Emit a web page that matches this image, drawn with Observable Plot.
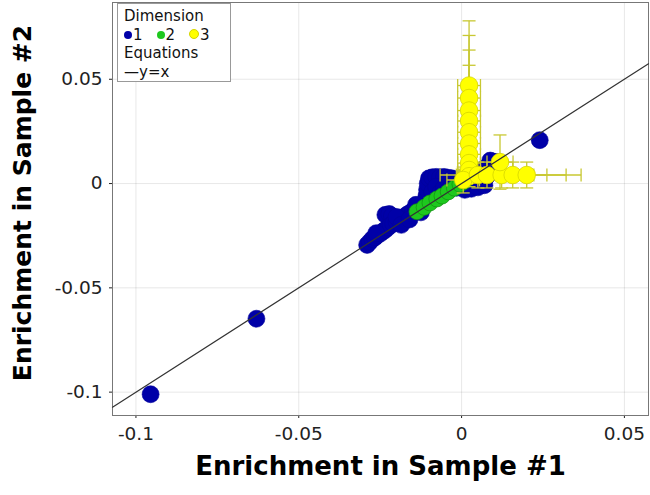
<!DOCTYPE html>
<html>
<head>
<meta charset="utf-8">
<script src="https://cdn.jsdelivr.net/npm/d3@7"></script>
<script src="https://cdn.jsdelivr.net/npm/@observablehq/plot@0.6"></script>
<style>
  html, body { margin: 0; padding: 0; background: #fff; }
  #wrap { position: relative; width: 650px; height: 495px; font-family: "DejaVu Sans", sans-serif; }
  #legend { position: absolute; left: 117px; top: 3px; width: 114px; height: 79px; border: 1px solid #999; background: #fff; font-size: 15px; color: #111; box-sizing: border-box; padding: 3px 0 0 6px; line-height: 18.5px; }
  #legend .row { white-space: nowrap; }
  #legend .sw { display: inline-block; width: 8px; height: 8px; border-radius: 50%; margin-right: 1px; vertical-align: 1px; }
  #legend .it { margin-right: 14px; }
</style>
</head>
<body>
<div id="wrap"><div id="chart"></div>
  <div id="legend">
    <div class="row">Dimension</div>
    <div class="row"><span class="it"><span class="sw" style="background:#0000a8"></span>1</span><span class="it"><span class="sw" style="background:#1ec81e"></span>2</span><span class="it"><span class="sw" style="background:#ffff00;border:0.5px solid #d4d400"></span>3</span></div>
    <div class="row">Equations</div>
    <div class="row">&#8212;y=x</div>
  </div>
</div>
<script>
// ---- data ----
const xTicks = [-0.1, -0.05, 0, 0.05];
const yTicks = [-0.1, -0.05, 0, 0.05];
const xDomain = [-0.1072, 0.0574];
const yDomain = [-0.1112, 0.0868];

const blueX = [-0.0955, -0.0630, 0.0240,
  -0.0290, -0.0282, -0.0274, -0.0266, -0.0258, -0.0250, -0.0242, -0.0234, -0.0222, -0.0214,
  -0.0234, -0.0226, -0.0218, -0.0210, -0.0200, -0.0192, -0.0184, -0.0176, -0.0168, -0.0160,
  -0.0150, -0.0140, -0.0130, -0.0120, -0.0112, -0.0108, -0.0106, -0.0104, -0.0100, -0.0090,
  -0.0078, -0.0066, -0.0054, -0.0042, -0.0030, -0.0090, -0.0078, -0.0066, -0.0054, -0.0042,
  -0.0030, -0.0015, 0.0010, 0.0030, 0.0050, 0.0070, 0.0055, 0.0078, 0.0068, 0.0080, 0.0092,
  0.0102, 0.0088,
  -0.0200, -0.0185, -0.0160, -0.0140, -0.0125, -0.0262];
const blueY = [-0.1010, -0.0648, 0.0208,
  -0.0294, -0.0280, -0.0266, -0.0258, -0.0247, -0.0240, -0.0230, -0.0150, -0.0146, -0.0156,
  -0.0222, -0.0210, -0.0200, -0.0192, -0.0182, -0.0168, -0.0176, -0.0160, -0.0150, -0.0142,
  -0.0132, -0.0120, -0.0112, -0.0098, -0.0085, -0.0060, -0.0030, 0.0000, 0.0025, 0.0030,
  0.0032, 0.0030, 0.0032, 0.0028, 0.0025, -0.0040, -0.0015, -0.0045, -0.0020, -0.0035,
  -0.0010, -0.0020, -0.0030, -0.0025, -0.0018, -0.0008, 0.0010, 0.0035, 0.0070, 0.0082, 0.0096,
  0.0104, 0.0110,
  -0.0160, -0.0198, -0.0172, -0.0102, -0.0138, -0.0238];

const greenX = [-0.0137, -0.0115, -0.0097, -0.0076, -0.0060, -0.0041, -0.0022, -0.0005, 0.0008];
const greenY = [-0.0135, -0.0114, -0.0093, -0.0074, -0.0060, -0.0040, -0.0022, -0.0003, 0.0010];

const yellowX  = [0.0023, 0.0023, 0.0023, 0.0023, 0.0023, 0.0023, 0.0023, 0.0023, 0.0023, 0.0023,
                  0.0005, 0.0050, 0.0078, 0.0123, 0.0157, 0.0200, 0.0118];
const yellowY  = [0.0470, 0.0410, 0.0350, 0.0300, 0.0246, 0.0192, 0.0140, 0.0098, 0.0065, 0.0035,
                  0.0017, 0.0041, 0.0041, 0.0041, 0.0041, 0.0041, 0.0103];
const yellowEX = [0.0035, 0.0035, 0.0035, 0.0035, 0.0035, 0.0035, 0.0035, 0.0035, 0.0035, 0.0035,
                  0.0050, 0.0060, 0.0144, 0.0139, 0.0164, 0.0167, 0.0040];
const yellowEY = [0.0310, 0.0300, 0.0290, 0.0267, 0.0180, 0.0140, 0.0100, 0.0080, 0.0060, 0.0050,
                  0.0062, 0.0062, 0.0062, 0.0062, 0.0062, 0.0062, 0.0130];

const xTitle = "Enrichment in Sample #1";
const yTitle = "Enrichment in Sample #2";

// ---- tables ----
const blue = blueX.map((x, i) => ({x, y: blueY[i]}));
const green = greenX.map((x, i) => ({x, y: greenY[i]}));
const yellow = yellowX.map((x, i) => ({x, y: yellowY[i], ex: yellowEX[i], ey: yellowEY[i]}));
const diag = xDomain.map(v => ({x: v, y: v}));

const fmt = d => String(+d.toFixed(3));
const hcap = {draw(ctx, size) { const r = Math.sqrt(size / Math.PI); ctx.moveTo(-r, 0); ctx.lineTo(r, 0); }};
const vcap = {draw(ctx, size) { const r = Math.sqrt(size / Math.PI); ctx.moveTo(0, -r); ctx.lineTo(0, r); }};
const ebColor = "#c8c832";

const plot = Plot.plot({
  width: 650,
  height: 495,
  marginLeft: 112,
  marginRight: 2,
  marginTop: 2,
  marginBottom: 80,
  style: {fontFamily: "DejaVu Sans, sans-serif", fontSize: "18.5px", color: "#222", background: "#fff"},
  x: {domain: xDomain, ticks: xTicks, tickFormat: fmt, grid: true, label: null, tickSize: 3, tickPadding: 8},
  y: {domain: yDomain, ticks: yTicks, tickFormat: fmt, grid: true, label: null, tickSize: 3, tickPadding: 7},
  marks: [
    Plot.frame({stroke: "#777"}),
    Plot.dot(blue, {x: "x", y: "y", r: 8.5, fill: "#0000a8", stroke: "#00009a", strokeWidth: 0.6}),
    Plot.dot(green, {x: "x", y: "y", r: 8, fill: "#1ec81e", stroke: "#109010", strokeWidth: 0.7}),
    Plot.link(yellow, {x1: d => d.x, x2: d => d.x, y1: d => d.y - d.ey, y2: d => d.y + d.ey, stroke: ebColor, strokeWidth: 1.3}),
    Plot.link(yellow, {x1: d => d.x - d.ex, x2: d => d.x + d.ex, y1: d => d.y, y2: d => d.y, stroke: ebColor, strokeWidth: 1.3}),
    Plot.dot(yellow, {x: "x", y: d => d.y + d.ey, r: 6.5, symbol: hcap, fill: "none", stroke: ebColor, strokeWidth: 1.3}),
    Plot.dot(yellow, {x: "x", y: d => d.y - d.ey, r: 6.5, symbol: hcap, fill: "none", stroke: ebColor, strokeWidth: 1.3}),
    Plot.dot(yellow, {x: d => d.x + d.ex, y: "y", r: 6.5, symbol: vcap, fill: "none", stroke: ebColor, strokeWidth: 1.3}),
    Plot.dot(yellow, {x: d => d.x - d.ex, y: "y", r: 6.5, symbol: vcap, fill: "none", stroke: ebColor, strokeWidth: 1.3}),
    Plot.dot(yellow, {x: "x", y: "y", r: 8.8, fill: "#ffff00", stroke: "#d4d400", strokeWidth: 0.8}),
    Plot.line(diag, {x: "x", y: "y", stroke: "#333", strokeWidth: 1.2}),
    Plot.text([xTitle], {frameAnchor: "bottom", dy: 59, text: d => d, fontSize: 26, fontWeight: "bold", fill: "#000"}),
    Plot.text([yTitle], {frameAnchor: "left", dx: -90, dy: -6, rotate: -90, textAnchor: "middle", text: d => d, fontSize: 25, fontWeight: "bold", fill: "#000"})
  ]
});
document.getElementById("chart").appendChild(plot);
</script>
</body>
</html>
